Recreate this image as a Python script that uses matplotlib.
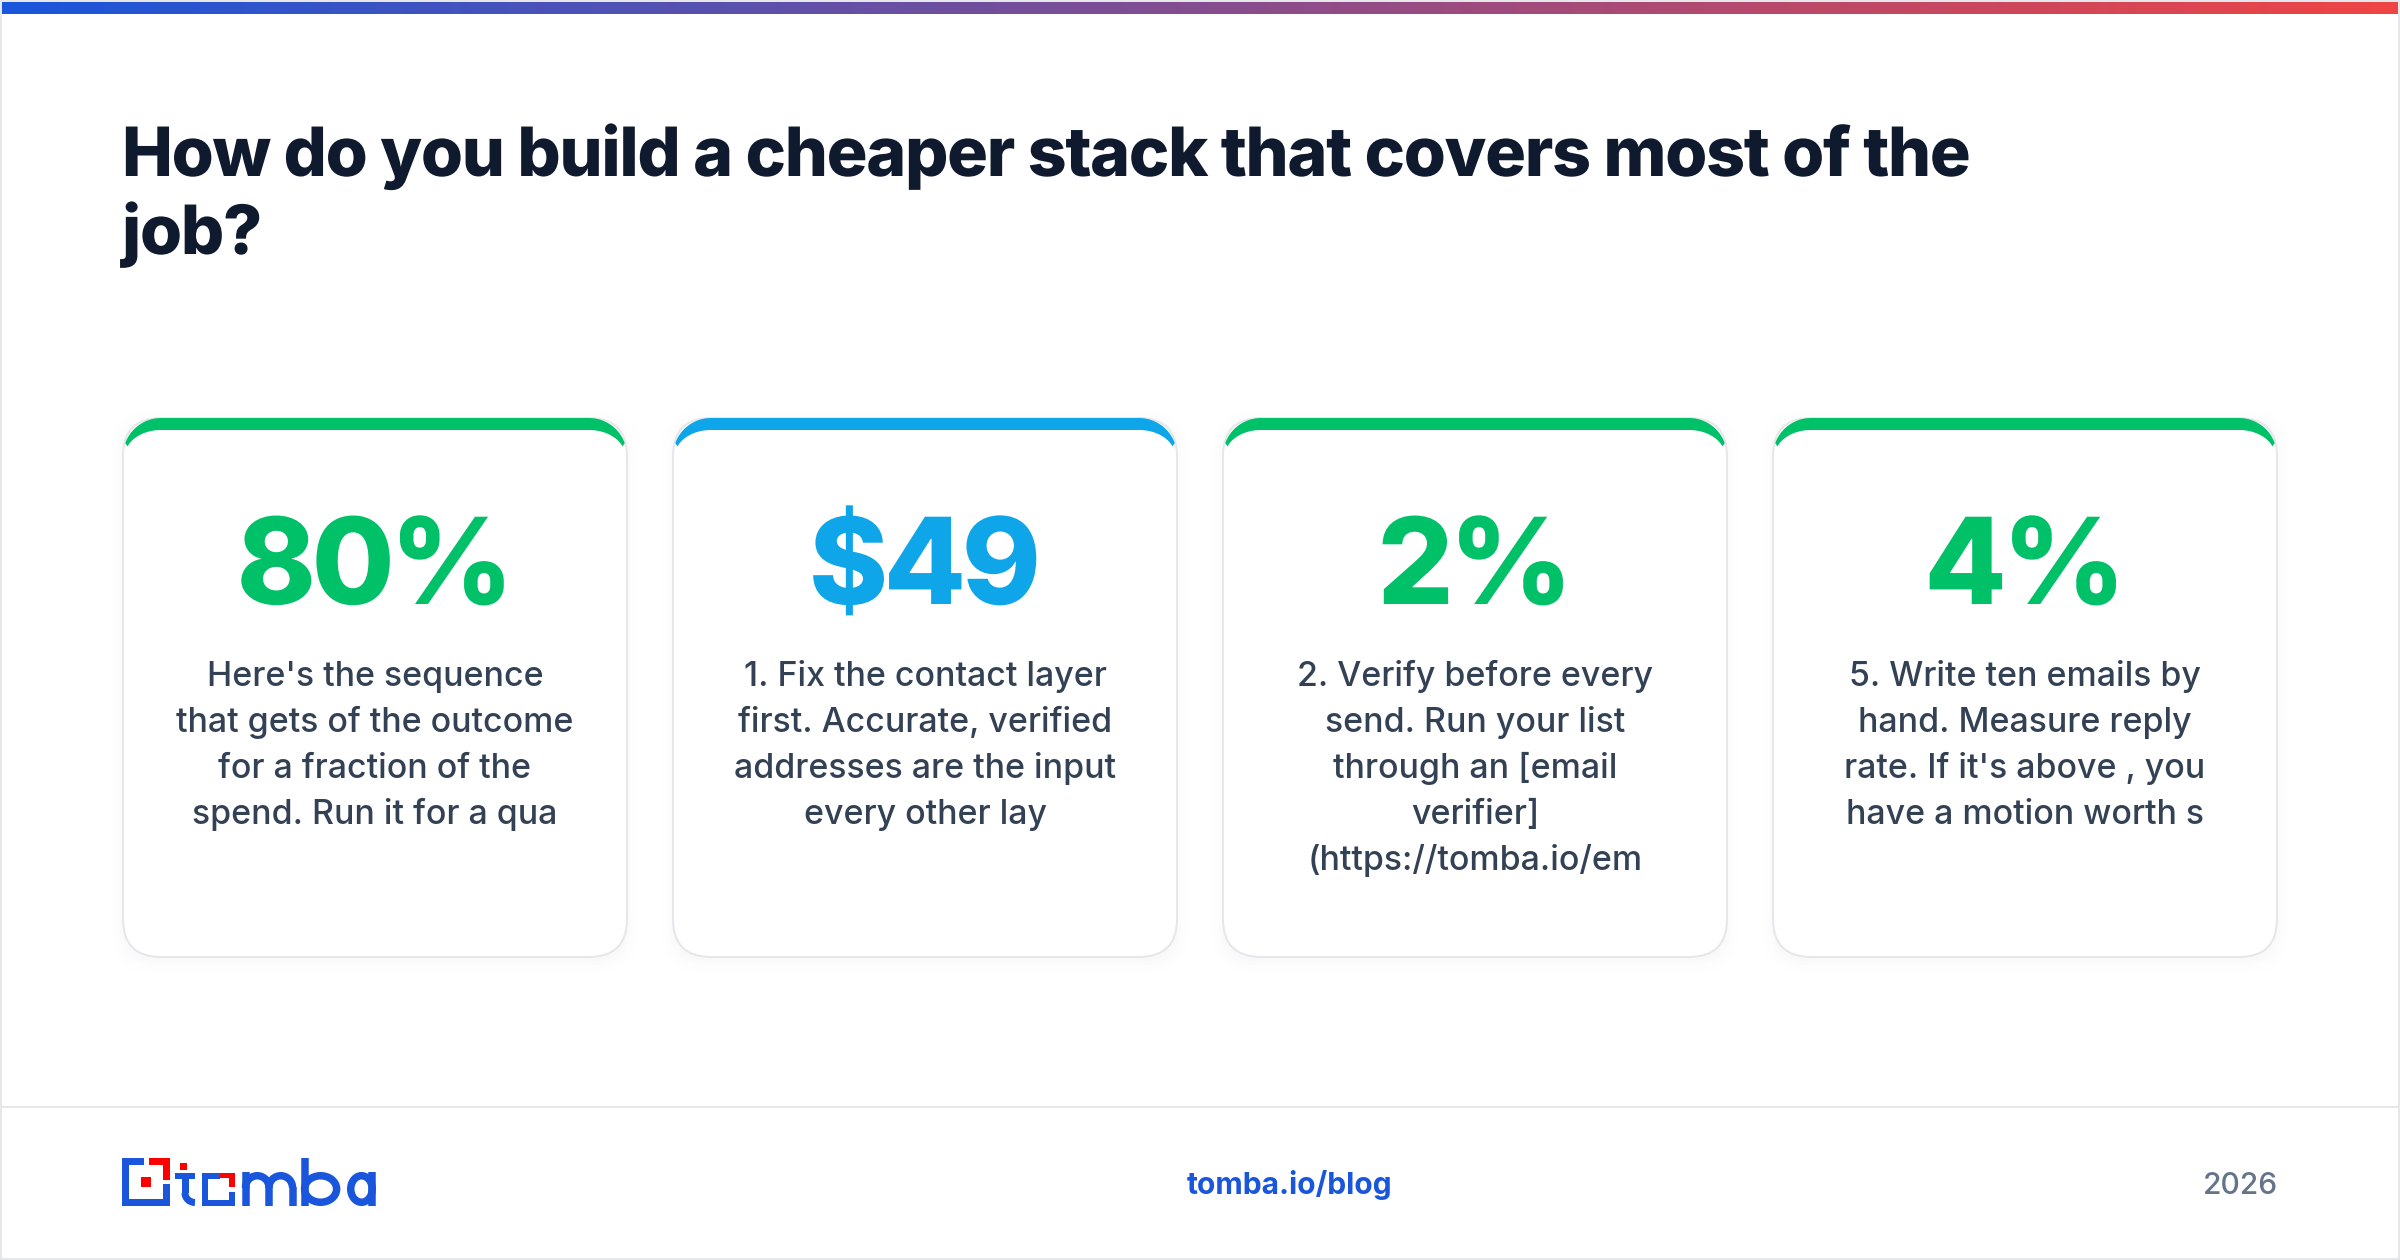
# logo and cards are laid out in image pixels, y going down
import matplotlib
matplotlib.use('Agg')
import matplotlib.pyplot as plt
import numpy as np
from matplotlib.patches import Rectangle, FancyBboxPatch, Polygon, Arc, Ellipse
from matplotlib.patheffects import AbstractPathEffect
from matplotlib.path import Path
from matplotlib.textpath import text_to_path
from matplotlib.colors import LinearSegmentedColormap

plt.rcParams['font.family'] = ['Inter', 'DejaVu Sans']

title_lines = ['How do you build a cheaper stack that covers most of the', 'job?']
stat_labels = ['80%', '$49', '2%', '4%']
stat_colors = ['#00c068', '#0ea5e9', '#00c068', '#00c068']
card_texts = [
    ["Here's the sequence", 'that gets of the outcome', 'for a fraction of the', 'spend. Run it for a qua'],
    ['1. Fix the contact layer', 'first. Accurate, verified', 'addresses are the input', 'every other lay'],
    ['2. Verify before every', 'send. Run your list', 'through an [email', 'verifier]', '(https://tomba.io/em'],
    ['5. Write ten emails by', "hand. Measure reply", "rate. If it's above , you", 'have a motion worth s'],
]
footer_link = 'tomba.io/blog'
footer_year = '2026'

BLUE = '#1a56db'
RED = '#ff0000'
DARK = '#0f1a2e'
BODY = '#334155'
GREY = '#64748b'
EDGE = '#e5e7eb'

card_w = 504
card_top = 418
card_bot = 957
card_lefts = [123, 673, 1223, 1773]
r = 38


def pt(px):
    return px * 0.72


class Tracked(AbstractPathEffect):
    # css letter-spacing: moves each glyph of the string's path, units are 1/100 em
    def __init__(self, s, prop, track, center=False):
        self.s, self.prop, self.track, self.center = s, prop, track, center

    def draw_path(self, renderer, gc, tpath, affine, rgbFace=None):
        verts = tpath.vertices.copy()
        n = 0
        for i, ch in enumerate(self.s):
            k = len(text_to_path.get_text_path(self.prop, ch)[0])
            verts[n:n + k, 0] += i * self.track
            n += k
        if self.center:
            verts[:, 0] -= (len(self.s) - 1) * self.track / 2
        renderer.draw_path(gc, Path(verts, tpath.codes), affine, rgbFace)


def track_text(x, y, s, track, center=False, **kw):
    t = ax.text(x, y, s, va='baseline', ha='center' if center else 'left', **kw)
    t.set_path_effects([Tracked(s, t.get_fontproperties(), track, center)])
    return t


fig = plt.figure(figsize=(24, 12.6), dpi=100)
ax = fig.add_axes([0, 0, 1, 1])
ax.set_xlim(0, 2400)
ax.set_ylim(1260, 0)
ax.axis('off')

# outer frame and footer rule
ax.add_patch(Rectangle((1, 1), 2398, 1258, fc='white', ec=EDGE, lw=pt(2)))
ax.plot([0, 2400], [1107, 1107], color=EDGE, lw=pt(2))

# top gradient bar
cmap = LinearSegmentedColormap.from_list('bar', ['#1a56db', '#ef4444'])
ax.imshow(np.linspace(0, 1, 512).reshape(1, -1), cmap=cmap, aspect='auto',
          extent=(2, 2398, 14, 2), zorder=3)
ax.set_xlim(0, 2400)
ax.set_ylim(1260, 0)


def crescent(x, color):
    # css style top border: outer radius r, inner ellipse
    a = np.linspace(np.pi * 0.89, np.pi / 2, 30)
    outer_l = np.c_[x + r + r * np.cos(a), card_top + r - r * np.sin(a)]
    inner_rx, inner_ry = r - 2, r - 12
    b = np.linspace(np.pi / 2, np.pi * 0.88, 30)
    inner_l = np.c_[x + r + inner_rx * np.cos(b), card_top + r - inner_ry * np.sin(b)]
    mirror = lambda p: np.c_[2 * x + card_w - p[:, 0], p[:, 1]]
    pts = np.vstack([outer_l, mirror(outer_l[::-1]), mirror(inner_l[::-1]), inner_l])
    ax.add_patch(Polygon(pts, closed=True, fc=color, ec='none', zorder=4))


for x, stat, col, lines in zip(card_lefts, stat_labels, stat_colors, card_texts):
    # soft shadow
    for grow, alpha in zip([14, 10, 6, 3], [0.004, 0.005, 0.007, 0.008]):
        ax.add_patch(FancyBboxPatch((x + r - grow, card_top + r - grow + 4),
                                    card_w - 2 * r + 2 * grow, card_bot - card_top - 2 * r + 2 * grow,
                                    boxstyle='round,pad=%d,rounding_size=%d' % (r - 2, r),
                                    fc='#0f172a', ec='none', alpha=alpha, zorder=1))
    ax.add_patch(FancyBboxPatch((x + r, card_top + r), card_w - 2 * r, card_bot - card_top - 2 * r,
                                boxstyle='round,pad=%d,rounding_size=%d' % (r, r),
                                fc='white', ec=EDGE, lw=pt(2), zorder=2))
    crescent(x, col)
    cx = x + card_w / 2
    track_text(cx, 604, stat, -3.8, center=True, color=col, fontsize=pt(120), fontweight=800, zorder=5)
    for i, line in enumerate(lines):
        ax.text(cx, 686 + i * 46, line, color=BODY, fontsize=pt(33.9), fontweight=500,
                ha='center', va='baseline', zorder=5)

# title
for i, line in enumerate(title_lines):
    track_text(122, 176 + i * 78, line, -1.84, color=DARK, fontsize=pt(68), fontweight=800)

# footer
ax.text(1290, 1194, footer_link, color=BLUE, fontsize=pt(30), fontweight=700,
        ha='center', va='baseline')
ax.text(2278, 1194, footer_year, color=GREY, fontsize=pt(30), fontweight=500, ha='right', va='baseline')


def box(x0, y0, x1, y1, color):
    ax.add_patch(Rectangle((x0, y0), x1 - x0, y1 - y0, fc=color, ec='none'))


# logo mark
box(122, 1158, 144, 1165, BLUE)
box(122, 1158, 129, 1206, BLUE)
box(122, 1199, 170, 1206, BLUE)
box(163, 1184, 170, 1206, BLUE)
box(149, 1158, 170, 1165, RED)
box(163, 1158, 170, 1180, RED)
box(141, 1177, 151, 1187, RED)
# t
box(180, 1163, 187, 1170, RED)
box(175, 1173, 195, 1179, BLUE)
box(182, 1173, 189, 1193, BLUE)
ax.add_patch(Arc((195, 1193), 20, 19, theta1=90, theta2=180, color=BLUE, lw=pt(7)))
# o
box(202, 1173, 220, 1179, BLUE)
box(202, 1173, 208, 1206, BLUE)
box(202, 1200, 235, 1206, BLUE)
box(229, 1192, 235, 1206, BLUE)
box(220, 1173, 235, 1178, RED)
box(229, 1173, 235, 1187, RED)
# m
lw = pt(7.5)
for sx in [245.5, 269, 292.5]:
    ax.plot([sx, sx], [1187, 1206], color=BLUE, lw=lw, solid_capstyle='butt')
ax.plot([245.5, 245.5], [1172, 1188], color=BLUE, lw=lw, solid_capstyle='butt')
for sx in [257.25, 280.75]:
    ax.add_patch(Arc((sx, 1187.5), 23.5, 23.5, theta1=180, theta2=360, color=BLUE, lw=lw))
# b
ax.plot([304.5, 304.5], [1158, 1206], color=BLUE, lw=lw, solid_capstyle='butt')
ax.add_patch(Ellipse((320.6, 1189), 32, 26.5, fc='none', ec=BLUE, lw=lw))
# a
ax.plot([372.25, 372.25], [1172, 1206], color=BLUE, lw=lw, solid_capstyle='butt')
ax.add_patch(Ellipse((361.5, 1189), 21.5, 26.5, fc='none', ec=BLUE, lw=lw))

fig.savefig('out.png', dpi=100, facecolor='white')
